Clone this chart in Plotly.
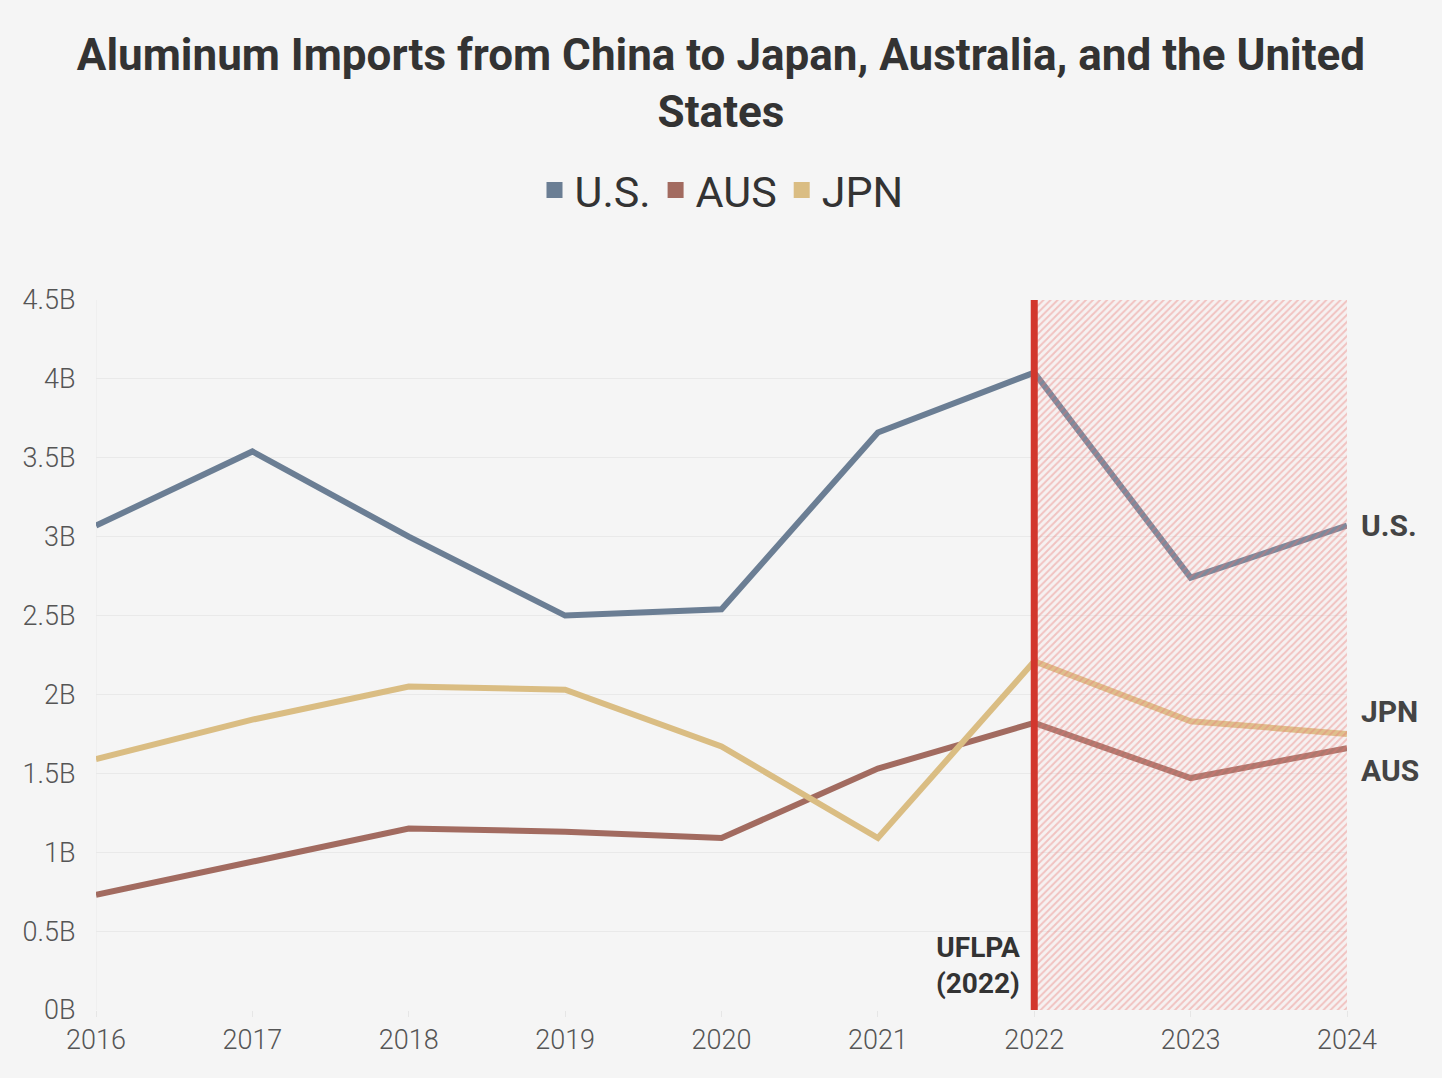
import plotly.graph_objects as go

years = [2016, 2017, 2018, 2019, 2020, 2021, 2022, 2023, 2024]
us = [3.07, 3.54, 3.00, 2.50, 2.54, 3.66, 4.04, 2.74, 3.07]
aus = [0.73, 0.94, 1.15, 1.13, 1.09, 1.53, 1.82, 1.47, 1.66]
jpn = [1.59, 1.84, 2.05, 2.03, 1.67, 1.09, 2.21, 1.83, 1.75]

series_names = ["U.S.", "AUS", "JPN"]
series_vals = [us, aus, jpn]
colors = ["#6b7e94", "#a26b60", "#dabd83"]

ytick_vals = [0, 0.5, 1, 1.5, 2, 2.5, 3, 3.5, 4, 4.5]
ytick_text = ["0B", "0.5B", "1B", "1.5B", "2B", "2.5B", "3B", "3.5B", "4B", "4.5B"]

shade_x = [2022, 2024, 2024, 2022, 2022]
shade_y = [0, 0, 4.5, 4.5, 0]
event_year = 2022

end_label_y = {"U.S.": 3.07, "JPN": 1.89, "AUS": 1.52}

fig = go.Figure()

for name, vals, c in zip(series_names, series_vals, colors):
    fig.add_trace(go.Scatter(x=years, y=vals, mode="lines", name=name,
                             line=dict(color=c, width=6), showlegend=False,
                             hoverinfo="x+y"))

# hatched region (drawn above lines)
fig.add_trace(go.Scatter(x=shade_x, y=shade_y, mode="lines", fill="toself",
                         line=dict(width=0, color="rgba(0,0,0,0)"),
                         fillcolor="rgba(255,220,220,0.12)",
                         fillpattern=dict(shape="/", size=5, solidity=0.4,
                                          fgcolor="rgba(232,115,110,0.75)",
                                          bgcolor="rgba(255,220,220,0.12)"),
                         showlegend=False, hoverinfo="skip"))

# legend entries
for name, c in zip(series_names, colors):
    fig.add_trace(go.Scatter(x=[None], y=[None], mode="markers", name=name,
                             marker=dict(symbol="square", size=16, color=c)))

fig.add_shape(type="line", x0=event_year, x1=event_year, y0=0, y1=4.5,
              xref="x", yref="y", line=dict(color="#d2372d", width=7), layer="above")

fig.add_annotation(x=event_year, y=0.28, xref="x", yref="y", text="<b>UFLPA<br>(2022)</b>",
                   showarrow=False, xanchor="right", yanchor="middle", xshift=-12, align="right",
                   font=dict(family="Roboto", size=28, color="#333333"))

for name, yv in end_label_y.items():
    fig.add_annotation(x=2024, y=yv, xref="x", yref="y", text="<b>" + name + "</b>",
                       showarrow=False, xanchor="left", yanchor="middle", xshift=12,
                       font=dict(family="Roboto", size=30, color="#444444"))

fig.update_layout(
    width=1442, height=1078,
    paper_bgcolor="#f5f5f5", plot_bgcolor="#f5f5f5",
    margin=dict(l=96, r=95, t=300, b=68),
    title=dict(text="<b>Aluminum Imports from China to Japan, Australia, and the United<br>States</b>",
               x=0.5, xanchor="center", y=1 - 70 / 1078, yanchor="middle", yref="container",
               font=dict(family="Roboto", size=44, color="#333333")),
    legend=dict(orientation="h", x=0.5, xanchor="center", y=1.155, yanchor="middle",
                font=dict(family="Roboto", size=43, color="#333333"),
                itemwidth=30, tracegroupgap=0, bgcolor="rgba(0,0,0,0)"),
    showlegend=True,
    xaxis=dict(range=[2016, 2024], tickvals=years, ticktext=[str(y) for y in years],
               showgrid=False, zeroline=False, showline=False,
               ticks="outside", ticklen=6, tickcolor="#e6e6e6",
               tickfont=dict(family="Roboto", size=27, color="#555555", weight=300)),
    yaxis=dict(range=[0, 4.5], tickvals=ytick_vals, ticktext=ytick_text,
               showgrid=True, gridcolor="#e9e9e9", gridwidth=1, zeroline=False,
               showline=False, ticks="outside", ticklen=14, tickcolor="rgba(0,0,0,0)",
               tickfont=dict(family="Roboto", size=27, color="#555555", weight=300)),
)

fig.add_shape(type="line", x0=2016, x1=2016, y0=0, y1=4.5, xref="x", yref="y",
              line=dict(color="#e9e9e9", width=1), layer="below")

fig.write_html("out.html")
